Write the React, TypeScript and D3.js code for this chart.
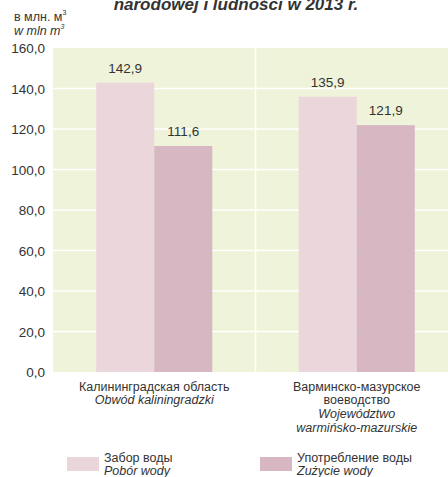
import React from "react";
import * as d3 from "d3";

const categories = ["kal", "war"];
const categoryLabels: string[][] = [
  ["Калининградская область", "Obwód kaliningradzki"],
  ["Варминско-мазурское", "воеводство", "Województwo", "warmińsko-mazurskie"],
];
const categoryItalic: boolean[][] = [
  [false, true],
  [false, false, true, true],
];
const series = ["pobor", "zuzycie"];
const seriesLabelsRu = ["Забор воды", "Употребление воды"];
const seriesLabelsPl = ["Pobór wody", "Zużycie wody"];
const pobor = [142.9, 135.9];
const zuzycie = [111.6, 121.9];
const yTicks = [0, 20, 40, 60, 80, 100, 120, 140, 160];
const colors = ["#ebd6db", "#d7b7c1"];

const W = 448;
const H = 477;
const FONT = "'Liberation Sans', Arial, sans-serif";
const TXT = "#333333";

export default function App() {
  const left = 53;
  const right = 458;
  const top = 48;
  const bottom = 372;

  const x = d3.scaleBand<string>().domain(categories).range([left, right]).padding(0);
  const y = d3.scaleLinear().domain([0, 160]).range([bottom, top]);
  const inner = d3
    .scaleBand<string>()
    .domain(series)
    .range([0, x.bandwidth()])
    .paddingInner(0)
    .paddingOuter(0.745);

  const values = [pobor, zuzycie];
  const fmt = (v: number) => v.toFixed(1).replace(".", ",");

  return (
    <svg
      width={W}
      height={H}
      style={{ position: "absolute", left: 0, top: 0, fontFamily: FONT }}
    >
      <rect x={0} y={0} width={W} height={H} fill="#ffffff" />
      {/* cropped title */}
      <text
        x={236}
        y={10}
        textAnchor="middle"
        fontSize={17}
        fontWeight="bold"
        fontStyle="italic"
        fill={TXT}
      >
        narodowej i ludności w 2013 r.
      </text>
      {/* unit */}
      <text x={14} y={21} fontSize={12.5} fill={TXT}>
        в млн. м<tspan dy={-6} fontSize={7}>3</tspan>
      </text>
      <text x={14} y={35} fontSize={12.5} fontStyle="italic" fill={TXT}>
        w mln m<tspan dy={-6} fontSize={7}>3</tspan>
      </text>
      {/* plot bg */}
      <rect x={left} y={top} width={right - left} height={bottom - top} fill="#eef3da" />
      {yTicks.slice(1, -1).map((t) => (
        <line key={t} x1={left} x2={right} y1={y(t)} y2={y(t)} stroke="#ffffff" strokeWidth={1.5} />
      ))}
      <line
        x1={x(categories[1])!}
        x2={x(categories[1])!}
        y1={top}
        y2={bottom}
        stroke="#ffffff"
        strokeWidth={1.5}
      />
      {yTicks.map((t) => (
        <text key={t} x={45} y={y(t) + 5} textAnchor="end" fontSize={13.5} fill={TXT}>
          {fmt(t)}
        </text>
      ))}
      {categories.map((c, ci) =>
        series.map((s, si) => {
          const v = values[si][ci];
          const bx = x(c)! + inner(s)!;
          return (
            <g key={c + s}>
              <rect x={bx} y={y(v)} width={inner.bandwidth()} height={bottom - y(v)} fill={colors[si]} />
              <text
                x={bx + inner.bandwidth() / 2}
                y={y(v) - 10}
                textAnchor="middle"
                fontSize={13.5}
                fill={TXT}
              >
                {fmt(v)}
              </text>
            </g>
          );
        })
      )}
      {categories.map((c, ci) => (
        <g key={c}>
          {categoryLabels[ci].map((l, li) => (
            <text
              key={li}
              x={x(c)! + x.bandwidth() / 2}
              y={390.5 + li * 13.7}
              textAnchor="middle"
              fontSize={12.5}
              fontStyle={categoryItalic[ci][li] ? "italic" : "normal"}
              fill={TXT}
            >
              {l}
            </text>
          ))}
        </g>
      ))}
      {series.map((s, si) => {
        const lx = si === 0 ? 67 : 260;
        return (
          <g key={s}>
            <rect x={lx} y={457} width={32} height={14} fill={colors[si]} />
            <text x={lx + 37} y={462} fontSize={12.5} fill={TXT}>
              {seriesLabelsRu[si]}
            </text>
            <text x={lx + 37} y={475} fontSize={12.5} fontStyle="italic" fill={TXT}>
              {seriesLabelsPl[si]}
            </text>
          </g>
        );
      })}
    </svg>
  );
}
